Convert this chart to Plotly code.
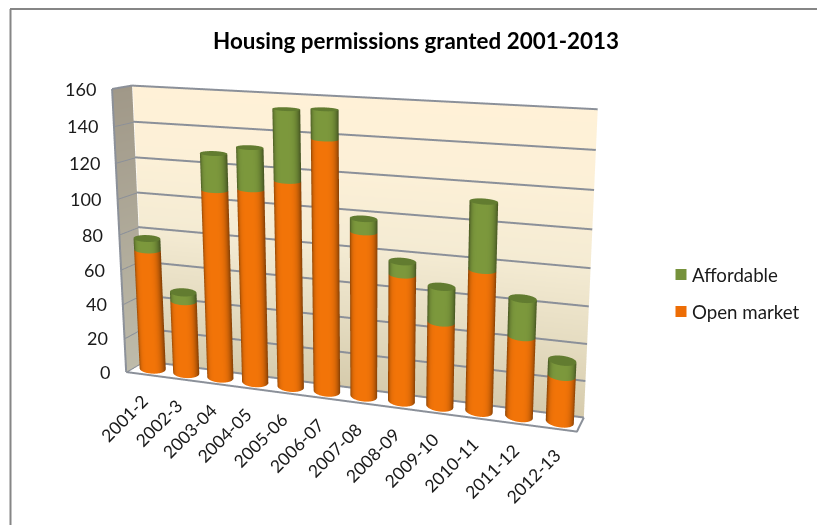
import numpy as np
import plotly.graph_objects as go

# Chart data
periods = ["2001-2", "2002-3", "2003-04", "2004-05", "2005-06", "2006-07",
           "2007-08", "2008-09", "2009-10", "2010-11", "2011-12", "2012-13"]
open_market = [70, 42.5, 107, 109, 115, 138.5, 91, 70, 46.5, 76.5, 43.5, 25]
affordable = [6.5, 5, 20, 22.5, 38, 15.5, 7, 7, 19, 35.5, 20, 8]
value_ticks = [0, 20, 40, 60, 80, 100, 120, 140, 160]

WIDTH, HEIGHT = 817, 525
Z_MAX = 160
N_CAT = len(periods)

# Perspective of the chart box, described by where its edges land on the page
FOCAL = (HEIGHT / 2) / np.tan(np.pi / 8)
VANISH_X, VANISH_Y, VANISH_Z = (-3400, -94), (800, -30), (367, 5224)
CORNER_ORIGIN, CORNER_X, CORNER_Y, CORNER_Z = (127, 372), (577, 432), (145, 361), (113, 89)
EYE_DEPTH = 2.5


def ray(p):
    return np.array([p[0] - WIDTH / 2, HEIGHT / 2 - p[1], -FOCAL], float)


def unit(v):
    return v / np.linalg.norm(v)


dir_x = -unit(ray(VANISH_X))
dir_y = unit(ray(VANISH_Y))
dir_z = -unit(ray(VANISH_Z))
origin = ray(CORNER_ORIGIN) * EYE_DEPTH / FOCAL


def edge_length(direction, corner):
    a = np.column_stack([direction, -ray(corner)])
    return np.linalg.lstsq(a, -origin, rcond=None)[0][0]


vec_x = dir_x * edge_length(dir_x, CORNER_X) / N_CAT
vec_y = dir_y * edge_length(dir_y, CORNER_Y)
vec_z = dir_z * edge_length(dir_z, CORNER_Z) / Z_MAX

# Scene axes: e1 along the categories, e3 normal to the floor
e1 = unit(vec_x)
e3 = unit(np.cross(vec_x, vec_y))
e2 = np.cross(e3, e1)
z_scale = vec_z @ e3
scene_centre = origin + (Z_MAX / 2) * z_scale * e3


def place(x, y, z):
    """Category position, depth fraction and value to scene coordinates."""
    x, y, z = np.asarray(x, float), np.asarray(y, float), np.asarray(z, float)
    sx = x * (vec_x @ e1) + y * (vec_y @ e1) + z * (vec_z @ e1)
    sy = x * (vec_x @ e2) + y * (vec_y @ e2) + z * (vec_z @ e2)
    return sx, sy, z


def rgb(c):
    return "rgb(%d,%d,%d)" % tuple(int(round(max(0, min(255, v)))) for v in c)


FLAT = dict(ambient=1, diffuse=0, specular=0, roughness=1, fresnel=0)
fig = go.Figure()


def add_surface(xs, ys, zs, i, j, k, colors):
    sx, sy, sz = place(xs, ys, zs)
    fig.add_trace(go.Mesh3d(x=sx, y=sy, z=sz, i=i, j=j, k=k, vertexcolor=colors,
                            lighting=FLAT, flatshading=False, hoverinfo="skip",
                            showlegend=False, showscale=False))


def add_wall(p0, p1, stops):
    """Vertical wall between two floor points, coloured by (value, colour) stops."""
    xs, ys, zs, cols, i, j, k = [], [], [], [], [], [], []
    for row, (val, col) in enumerate(stops):
        for p in (p0, p1):
            xs.append(p[0]); ys.append(p[1]); zs.append(val); cols.append(rgb(col))
        if row:
            a = 2 * row
            i += [a - 2, a - 1]; j += [a - 1, a + 1]; k += [a, a]
    add_surface(xs, ys, zs, i, j, k, cols)


add_wall((0, 1.01), (N_CAT, 1.01), [(0, (214, 203, 172)), (40, (229, 220, 193)),
                                    (80, (244, 235, 211)), (120, (252, 240, 215)),
                                    (160, (255, 241, 215))])
add_wall((-0.02, 0), (-0.02, 1.01), [(0, (190, 187, 170)), (160, (160, 152, 136))])


def add_cylinder_part(bottoms, tops, colour, cap=None):
    """Side surface of each column between two value lists, with optional top caps."""
    n = 48
    angles = np.linspace(0, 2 * np.pi, n, endpoint=False)
    ry = 0.38
    xs, ys, zs, cols, i, j, k = [], [], [], [], [], [], []
    for c, (lo, hi) in enumerate(zip(bottoms, tops)):
        base = len(xs)
        share = c / (N_CAT - 1)
        rx = 0.36 - 0.02 * share
        # The depth axis runs slanted on the page; lean the cross-section against it
        # so the column outlines stay upright, and level the caps near the left wall
        lean = 0.45 - 0.25 * share
        level_off = 0.06 * (1 - share)
        ring_x = c + 0.5 + rx * np.cos(angles) - lean * ry * np.sin(angles)
        ring_y = 0.5 + ry * np.sin(angles) + level_off * np.cos(angles)
        for level in (lo, hi):
            for a, rxv, ryv in zip(angles, ring_x, ring_y):
                xs.append(rxv)
                ys.append(ryv)
                zs.append(level)
                s = np.cos(a)
                shade = 1 - 0.45 * abs(s) ** (3.5 if s > 0 else 6)
                cols.append(rgb(np.array(colour) * shade))
        for m in range(n):
            m2 = (m + 1) % n
            i += [base + m, base + m2]
            j += [base + m2, base + n + m2]
            k += [base + n + m, base + n + m]
        if cap is not None:
            hub = len(xs)
            xs.append(c + 0.5); ys.append(0.5); zs.append(hi); cols.append(rgb(cap))
            ring = len(xs)
            for rxv, ryv in zip(ring_x, ring_y):
                xs.append(rxv); ys.append(ryv); zs.append(hi); cols.append(rgb(cap))
            for m in range(n):
                i.append(hub); j.append(ring + m); k.append(ring + (m + 1) % n)
    add_surface(xs, ys, zs, i, j, k, cols)


stack_top = [o + a for o, a in zip(open_market, affordable)]
add_cylinder_part([0] * N_CAT, open_market, (242, 116, 8))
add_cylinder_part(open_market, stack_top, (124, 152, 60), cap=(98, 124, 48))

# Gridlines across the back wall and left wall, plus the floor outline
LINE = "#8b9099"


def add_polyline(points, width=4):
    sx, sy, sz = place(*zip(*points))
    fig.add_trace(go.Scatter3d(x=sx, y=sy, z=sz, mode="lines",
                               line=dict(color=LINE, width=width),
                               hoverinfo="skip", showlegend=False))


for tick in value_ticks:
    add_polyline([(-0.02, -0.01, tick), (-0.02, 1.0, tick), (N_CAT, 1.0, tick)])
add_polyline([(-0.02, -0.01, 0), (-0.02, -0.01, Z_MAX)])
add_polyline([(-0.02, -0.01, 0), (N_CAT, -0.01, 0), (N_CAT, 1.0, 0)])

# Tick labels sit at their positions on the value and category axes
FONT = "Lato"
labels = []
for tick in value_ticks:
    sx, sy, sz = place(0, 0, tick)
    labels.append(dict(x=float(sx), y=float(sy), z=float(sz), text=str(tick), showarrow=False,
                       xanchor="right", yanchor="middle", xshift=-15,
                       font=dict(family=FONT, size=18, color="#1a1a1a")))
for c, period in enumerate(periods):
    sx, sy, sz = place(c + 0.5, 0, 0)
    labels.append(dict(x=float(sx), y=float(sy), z=float(sz), text=period, showarrow=False,
                       textangle=-45, xanchor="right", yanchor="top", xshift=11, yshift=-14,
                       font=dict(family=FONT, size=17.5, color="#1a1a1a")))

eye = np.array([(-scene_centre) @ e for e in (e1, e2, e3)])
look = np.array([(np.array([0, 0, -EYE_DEPTH]) - scene_centre) @ e for e in (e1, e2, e3)])
up = np.array([np.array([0, 1, 0]) @ e for e in (e1, e2, e3)])
R = 8.0
z_pad = 20
hidden = dict(visible=False, showspikes=False, showbackground=False, autorange=False)


def vec(v):
    return dict(x=float(v[0]), y=float(v[1]), z=float(v[2]))


def px_x(v):
    return v / WIDTH


def px_y(v):
    return 1 - v / HEIGHT


# Legend keys and names
legend_rows = [("Affordable", "#76923c", 274.5), ("Open market", "#ed6d05", 311.5)]
legend_shapes = [dict(type="rect", xref="paper", yref="paper", x0=px_x(675.5), x1=px_x(686.5),
                      y0=px_y(y - 5.5), y1=px_y(y + 5.5), fillcolor=col, line=dict(width=0))
                 for _, col, y in legend_rows]
legend_text = [dict(xref="paper", yref="paper", x=px_x(690), y=px_y(y), text=name, showarrow=False,
                    xanchor="left", yanchor="middle", font=dict(family=FONT, size=18.7, color="#1a1a1a"))
               for name, _, y in legend_rows]

fig.update_layout(
    width=WIDTH, height=HEIGHT, autosize=False,
    margin=dict(l=0, r=0, t=0, b=0),
    paper_bgcolor="white",
    showlegend=False,
    font=dict(family=FONT, color="#1a1a1a"),
    title=dict(text="<b>Housing permissions granted 2001-2013</b>", x=416 / WIDTH, xanchor="center",
               y=px_y(41), yanchor="middle", font=dict(family=FONT, size=22.4, color="black")),
    annotations=legend_text,
    scene=dict(
        domain=dict(x=[0, 1], y=[0, 1]),
        bgcolor="white",
        xaxis=dict(range=[-R, R], **hidden),
        yaxis=dict(range=[-R, R], **hidden),
        zaxis=dict(range=[-z_pad, Z_MAX + z_pad], **hidden),
        aspectmode="manual",
        aspectratio=dict(x=2 * R, y=2 * R, z=(Z_MAX + 2 * z_pad) * z_scale),
        camera=dict(eye=vec(eye), center=vec(look), up=vec(up),
                    projection=dict(type="perspective")),
        annotations=labels,
    ),
    shapes=[
        dict(type="line", xref="paper", yref="paper", x0=px_x(10.5), x1=px_x(10.5),
             y0=0, y1=px_y(9), line=dict(color="#868686", width=2)),
        dict(type="line", xref="paper", yref="paper", x0=px_x(10), x1=1,
             y0=px_y(9), y1=px_y(9), line=dict(color="#868686", width=2)),
    ] + legend_shapes,
)
fig.write_html("out.html")
